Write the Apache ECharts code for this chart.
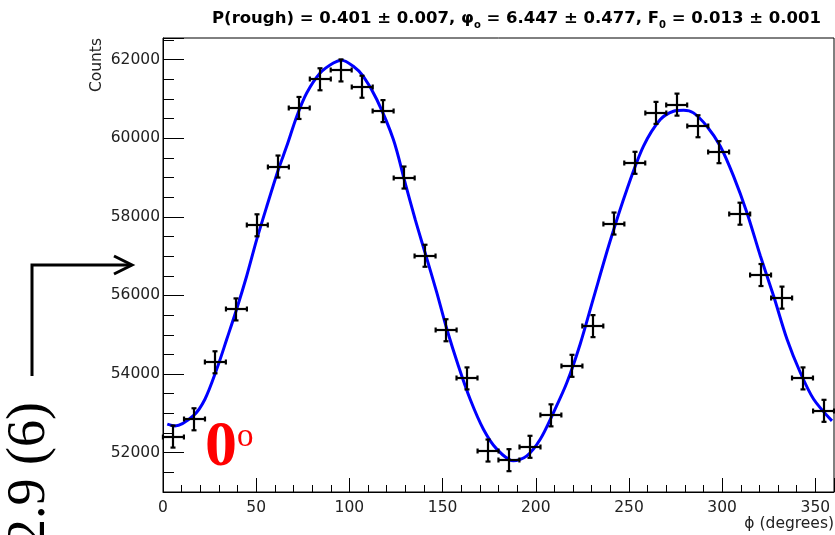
<!DOCTYPE html>
<html>
<head>
<meta charset="utf-8">
<script src="https://cdn.jsdelivr.net/npm/echarts@6.0.0/dist/echarts.min.js"></script>
<style>
  html, body { margin: 0; padding: 0; background: #fff; }
  #chart { width: 835px; height: 535px; }
</style>
</head>
<body>
<div id="chart"></div>
<script>
// bin centres (degrees) and counts
var phiBins = [5.6, 16.9, 28.1, 39.4, 50.6, 61.9, 73.1, 84.4, 95.6, 106.9, 118.1, 129.4,
  140.6, 151.9, 163.1, 174.4, 185.6, 196.9, 208.1, 219.4, 230.6, 241.9, 253.1, 264.4,
  275.6, 286.9, 298.1, 309.4, 320.6, 331.9, 343.1, 354.4];
var counts = [52410, 52850, 54300, 55645, 57785, 59280, 60770, 61500, 61725, 61310, 60690, 59000,
  57010, 55115, 53890, 52055, 51810, 52150, 52950, 54210, 55220, 57830, 59375, 60645,
  60855, 60305, 59645, 58080, 56520, 55945, 53890, 53065];
var binHalfWidth = 5.625;
var countErr = 280;

// fitted curve, sampled along the blue line
var fitPhi = [2.3, 6.4, 16.3, 22.5, 28.8, 34.2, 39.5, 44.9, 50.3, 55.7, 61.9, 66.4, 71.8, 77.1,
  84.3, 91.4, 95.9, 102.1, 107.5, 114.7, 123.6, 129.9, 135.3, 140.6, 146.9, 152.3, 158.5,
  164.8, 171.9, 179.1, 188.0, 195.2, 202.4, 209.5, 216.7, 223.8, 231.0, 239.9, 248.9, 257.8,
  266.8, 273.9, 279.3, 284.6, 291.8, 299.0, 306.1, 313.3, 320.5, 327.6, 334.8, 341.9, 349.1, 358.9];
var fitVal = [52725, 52680, 52940, 53360, 54120, 54885, 55650, 56495, 57425, 58270, 59205, 59800, 60560, 61150,
  61660, 61915, 61985, 61830, 61575, 60985, 59967, 58867, 57934, 57088, 56072, 55140, 54207,
  53360, 52598, 52090, 51793, 51920, 52344, 53022, 53785, 54760, 55940, 57385, 58697, 59797,
  60475, 60687, 60712, 60645, 60305, 59797, 59035, 58105, 57003, 55985, 54885, 54040, 53360, 52809];

var titleText = '{b|P(rough) = 0.401 ± 0.007, φ}{s|o}{b| = 6.447 ± 0.477, F}{s|0}{b| = 0.013 ± 0.001}';

var sans = '"DejaVu Sans"';
var labelColor = '#222';

var points = phiBins.map(function (p, i) { return [p, counts[i]]; });
var fitLine = fitPhi.map(function (p, i) { return [p, fitVal[i]]; });

// cross with end caps, like ROOT's "E1" error bars
function renderErrorBar(params, api) {
  var x = api.value(0);
  var y = api.value(1);
  var l = api.coord([x - binHalfWidth, y]);
  var r = api.coord([x + binHalfWidth, y]);
  var t = api.coord([x, y + countErr]);
  var b = api.coord([x, y - countErr]);
  var cx = Math.round(t[0]);
  var cy = Math.round(l[1]);
  var cap = 2.5;
  var st = { stroke: '#000', lineWidth: 2.2 };
  function seg(x1, y1, x2, y2) {
    return { type: 'line', shape: { x1: x1, y1: y1, x2: x2, y2: y2 }, style: st };
  }
  return {
    type: 'group',
    children: [
      seg(l[0], cy, r[0], cy),
      seg(cx, t[1], cx, b[1]),
      seg(l[0], cy - cap, l[0], cy + cap),
      seg(r[0], cy - cap, r[0], cy + cap),
      seg(cx - cap, t[1], cx + cap, t[1]),
      seg(cx - cap, b[1], cx + cap, b[1])
    ]
  };
}

var chart = echarts.init(document.getElementById('chart'), null, { renderer: 'canvas' });
chart.setOption({
  animation: false,
  backgroundColor: '#fff',
  title: {
    text: titleText,
    left: 207,
    top: 3,
    textStyle: {
      rich: {
        b: { fontFamily: sans, fontWeight: 'bold', fontSize: 16.5, color: '#000', lineHeight: 22 },
        s: { fontFamily: sans, fontWeight: 'bold', fontSize: 10, color: '#000', lineHeight: 12, padding: [12, 0, 0, 0] }
      }
    }
  },
  grid: { left: 163, right: 1, top: 38, bottom: 43, show: true, borderColor: '#000', borderWidth: 1, containLabel: false, outerBoundsMode: 'none' },
  xAxis: {
    type: 'value',
    min: 0,
    max: 360,
    interval: 50,
    name: 'ϕ (degrees)',
    nameLocation: 'end',
    nameGap: 0,
    nameTextStyle: { fontFamily: sans, fontSize: 15.5, color: labelColor, align: 'right', verticalAlign: 'top', padding: [24, 0, 0, 0] },
    axisLine: { show: true, onZero: false, lineStyle: { color: '#000', width: 1 } },
    axisTick: { show: true, inside: true, length: 14, lineStyle: { color: '#000', width: 1 } },
    minorTick: { show: true, splitNumber: 5, length: 7, lineStyle: { color: '#000', width: 1 } },
    splitLine: { show: false },
    axisLabel: { fontFamily: sans, fontSize: 15.5, color: labelColor, margin: 8, showMaxLabel: false }
  },
  yAxis: {
    type: 'value',
    min: 51000,
    max: 62550,
    splitNumber: 5,
    axisLine: { show: true, onZero: false, lineStyle: { color: '#000', width: 1 } },
    axisTick: { show: true, inside: true, length: 21, lineStyle: { color: '#000', width: 1 } },
    minorTick: { show: true, splitNumber: 4, length: 11, lineStyle: { color: '#000', width: 1 } },
    splitLine: { show: false },
    axisLabel: {
      fontFamily: sans, fontSize: 15.5, color: labelColor, margin: 3,
      showMinLabel: false, showMaxLabel: false,
      formatter: function (v) { return String(v); }
    }
  },
  series: [
    {
      type: 'line',
      data: fitLine,
      smooth: 0.3,
      showSymbol: false,
      lineStyle: { color: '#0000ff', width: 3 },
      z: 2
    },
    {
      type: 'custom',
      renderItem: renderErrorBar,
      data: points,
      z: 3
    }
  ],
  graphic: [
    // y axis title
    { type: 'text', x: 97, y: 38, rotation: Math.PI / 2,
      style: { text: 'Counts', fontFamily: sans, fontSize: 15.5, fill: labelColor, align: 'right', verticalAlign: 'middle' } },
    // bent arrow at the left
    { type: 'polyline', shape: { points: [[32, 376], [32, 265], [131, 265]] },
      style: { stroke: '#000', lineWidth: 3, fill: null } },
    { type: 'polyline', shape: { points: [[114, 256], [132, 265], [114, 274]] },
      style: { stroke: '#000', lineWidth: 3, fill: null } },
    { type: 'text', x: 30, y: 402, rotation: Math.PI / 2,
      style: { text: '2.9 (6)', fontFamily: '"Liberation Serif"', fontSize: 54, fill: '#000', align: 'right', verticalAlign: 'middle' } },
    // red 0 degree marker
    { type: 'text', x: 205, y: 448,
      style: { text: '0', fontFamily: '"Liberation Serif"', fontWeight: 'bold', fontSize: 64, fill: '#ff0000', align: 'left', verticalAlign: 'middle' } },
    { type: 'text', x: 237, y: 437,
      style: { text: 'o', fontFamily: '"Liberation Serif"', fontSize: 33, fill: '#ff0000', align: 'left', verticalAlign: 'middle' } }
  ]
});
</script>
</body>
</html>
